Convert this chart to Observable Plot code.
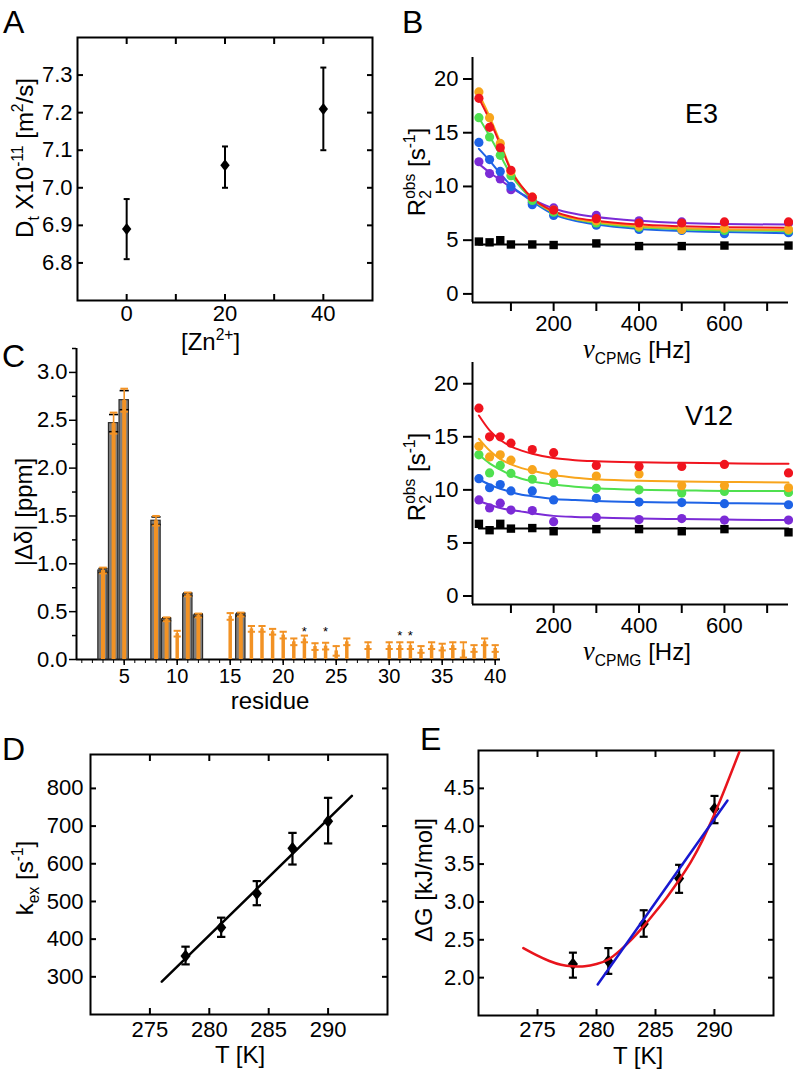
<!DOCTYPE html>
<html><head><meta charset="utf-8">
<script src="https://cdn.jsdelivr.net/npm/d3@7"></script>
<script src="https://cdn.jsdelivr.net/npm/@observablehq/plot@0.6"></script>
<style>
body{margin:0;background:#fff;}
#root{position:relative;width:793px;height:1070px;overflow:hidden;background:#fff;}
</style></head><body><div id="root"></div>
<script>
// ---------------- DATA ----------------
// Panel A
const znConc = [0, 20, 40];
const diffCoef = [6.89, 7.06, 7.21];
const diffLow = [6.81, 7.00, 7.10];
const diffHigh = [6.97, 7.11, 7.32];
const znDomain = [-10, 50];
const diffDomain = [6.7, 7.4];
const znTicks = [0, 10, 20, 30, 40];
const znLabeled = [0, 20, 40];
const diffTicks = [6.8, 6.9, 7.0, 7.1, 7.2, 7.3];

// Panel B (CPMG)
const seriesNames = ["s5", "s4", "s3", "s2", "s1"];
const seriesColors = ["#7b2bd6", "#1e63e6", "#4fe04f", "#f8a51c", "#f0141e"];
const nuCPMG = [25, 50, 75, 100, 150, 200, 300, 400, 500, 600, 750];
const nuFit = [25, 50, 75, 100, 125, 150, 200, 250, 300, 400, 500, 600, 750];
const nuDomain = [10, 750];
const r2Domain = [-0.8, 22];
const nuTicks = [100, 200, 300, 400, 500, 600, 700];
const nuLabeled = [200, 400, 600];
const r2Ticks = [0, 5, 10, 15, 20];

const e3Red    = [18.2, 15.5, 13.6, 11.5, 9.0, 7.8, 7.0, 6.6, 6.6, 6.7, 6.7];
const e3Orange = [18.8, 16.4, 14.0, 11.4, 9.0, 7.8, 6.8, 6.3, 6.0, 6.1, 6.0];
const e3Green  = [16.4, 14.6, 12.9, 11.0, 8.7, 7.6, 6.6, 6.2, 6.0, 5.9, 5.9];
const e3Blue   = [14.1, 12.5, 11.4, 10.0, 8.3, 7.3, 6.4, 6.0, 5.9, 5.6, 5.7];
const e3Purple = [12.3, 11.2, 10.7, 9.7, 8.5, 8.0, 7.3, 6.8, 6.7, 6.6, 6.6];
const e3Ref    = [4.87, 4.8, 5.0, 4.6, 4.6, 4.55, 4.7, 4.45, 4.45, 4.5, 4.5];

const e3RedFit    = [18.2, 16.2, 13.9, 11.5, 10.0, 8.9, 7.7, 7.1, 6.8, 6.45, 6.3, 6.2, 6.15];
const e3OrangeFit = [18.6, 16.5, 14.1, 11.6, 10.0, 8.9, 7.6, 7.0, 6.7, 6.3, 6.1, 6.0, 5.95];
const e3GreenFit  = [16.4, 14.7, 12.9, 11.1, 9.8, 8.8, 7.55, 6.95, 6.6, 6.2, 6.0, 5.9, 5.85];
const e3BlueFit   = [13.5, 12.4, 11.2, 10.1, 9.3, 8.6, 7.4, 6.8, 6.45, 6.05, 5.85, 5.75, 5.65];
const e3PurpleFit = [12.1, 11.3, 10.6, 9.9, 9.3, 8.8, 7.95, 7.45, 7.15, 6.8, 6.6, 6.5, 6.45];
const refFitNu = [25, 750];
const e3RefFit = [4.6, 4.6];

const v12Red    = [17.7, 15.0, 15.0, 14.4, 13.8, 13.5, 12.3, 12.2, 12.2, 12.4, 11.6];
const v12Orange = [14.1, 13.1, 13.3, 12.8, 11.9, 11.5, 11.3, 11.5, 10.4, 10.4, 10.2];
const v12Green  = [13.3, 11.6, 12.3, 11.55, 11.0, 10.7, 10.15, 10.0, 9.7, 9.85, 9.75];
const v12Blue   = [11.05, 10.2, 10.5, 9.9, 9.9, 9.05, 9.2, 8.85, 8.8, 8.7, 8.6];
const v12Purple = [9.05, 8.3, 8.75, 8.1, 8.05, 7.0, 7.4, 7.2, 7.3, 7.15, 7.15];
const v12Ref    = [6.8, 6.2, 6.8, 6.35, 6.4, 6.1, 6.3, 6.3, 6.1, 6.3, 6.0];

const v12RedFit    = [17.0, 15.6, 14.7, 14.1, 13.7, 13.4, 13.0, 12.8, 12.7, 12.6, 12.55, 12.5, 12.45];
const v12OrangeFit = [14.8, 13.7, 12.9, 12.4, 12.05, 11.8, 11.4, 11.15, 11.0, 10.85, 10.8, 10.75, 10.7];
const v12GreenFit  = [13.3, 12.5, 11.9, 11.4, 11.05, 10.8, 10.5, 10.3, 10.15, 10.0, 9.95, 9.9, 9.9];
const v12BlueFit   = [11.0, 10.5, 10.1, 9.8, 9.55, 9.4, 9.15, 9.05, 8.95, 8.85, 8.8, 8.75, 8.7];
const v12PurpleFit = [8.95, 8.6, 8.3, 8.1, 7.95, 7.8, 7.55, 7.45, 7.4, 7.3, 7.25, 7.2, 7.15];
const v12RefFit = [6.35, 6.35];

// Panel C (chemical shift perturbation)
const resDomain = [0.5, 40.5];
const shiftDomain = [0, 3.25];
const resFull = [3, 4, 5, 8, 9, 11, 12, 16];
const shiftFull = [0.93, 2.47, 2.71, 1.45, 0.42, 0.68, 0.46, 0.47];
const errFullBlack = [0.02, 0.09, 0.10, 0.04, 0.015, 0.015, 0.015, 0.015];
const errFullOrange = [0.03, 0.11, 0.12, 0.05, 0.02, 0.02, 0.02, 0.02];
const resPartial = [10, 15, 17, 18, 19, 20, 21, 22, 23, 24, 25, 26, 28, 30, 31, 32, 33, 34, 35, 36, 37, 38, 39, 40];
const shiftPartial = [0.27, 0.45, 0.32, 0.32, 0.29, 0.255, 0.185, 0.215, 0.135, 0.14, 0.09, 0.185, 0.145, 0.145, 0.145, 0.145, 0.105, 0.145, 0.13, 0.145, 0.10, 0.115, 0.185, 0.115];
const errPartial = [0.03, 0.035, 0.03, 0.03, 0.03, 0.035, 0.035, 0.035, 0.035, 0.035, 0.05, 0.035, 0.035, 0.035, 0.035, 0.035, 0.035, 0.035, 0.035, 0.035, 0.08, 0.035, 0.035, 0.035];
const resStar = [22, 24, 31, 32];
const starLevel = [0.29, 0.29, 0.245, 0.245];
const resTicks = d3.range(1, 41);
const resLabeled = [5, 10, 15, 20, 25, 30, 35, 40];
const shiftTicks = [0, 0.5, 1.0, 1.5, 2.0, 2.5, 3.0];
const shiftMinor = [0.25, 0.75, 1.25, 1.75, 2.25, 2.75, 3.25];

// Panel D
const tempK = [278, 281, 284, 287, 290];
const kex = [355, 431, 521, 641, 713];
const kexLow = [333, 406, 490, 598, 654];
const kexHigh = [380, 457, 554, 682, 775];
const kexFitT = [276, 292];
const kexFit = [287, 780];
const tDomain = [270, 295];
const kexDomain = [200, 890];
const tTicks = [275, 280, 285, 290];
const kexTicks = [300, 400, 500, 600, 700, 800];

// Panel E
const dG = [2.18, 2.22, 2.71, 3.31, 4.23];
const dGLow = [2.00, 2.05, 2.54, 3.12, 4.04];
const dGHigh = [2.33, 2.39, 2.89, 3.49, 4.40];
const dGRedT = [273.8, 275, 276, 277, 278, 279, 280, 281, 282, 283, 284, 285, 286, 287, 288, 289, 290, 291, 292.1];
const dGRed  = [2.39, 2.29, 2.22, 2.17, 2.15, 2.15, 2.18, 2.24, 2.36, 2.51, 2.68, 2.87, 3.07, 3.29, 3.53, 3.82, 4.16, 4.54, 4.98];
const dGBlueT = [280.1, 291.1];
const dGBlue = [1.91, 4.34];
const dGDomain = [1.5, 5.0];
const dGTicks = [2.0, 2.5, 3.0, 3.5, 4.0, 4.5];

// ---------------- HELPERS ----------------
const FONT = '"Liberation Sans", Arial, Helvetica, sans-serif';
const STYLE = {fontFamily: FONT, fontSize: "22px", background: "transparent", color: "black", overflow: "visible"};
const capSym = {draw(ctx, size) { const r = Math.sqrt(size / Math.PI); ctx.moveTo(-r, 0); ctx.lineTo(r, 0); }};
const diamondSym = {draw(ctx, size) { const r = Math.sqrt(size / Math.PI), w = 0.78 * r; ctx.moveTo(0, -r); ctx.lineTo(w, 0); ctx.lineTo(0, r); ctx.lineTo(-w, 0); ctx.closePath(); }};
const squareSym = {draw(ctx, size) { const r = Math.sqrt(size / Math.PI); ctx.rect(-r, -r, 2 * r, 2 * r); }};

const root = document.getElementById("root");
function place(svg, left, top, w, h) {
  const div = document.createElement("div");
  div.style.cssText = `position:absolute;left:${left}px;top:${top}px;width:${w}px;height:${h}px;`;
  div.appendChild(svg);
  root.appendChild(div);
  return svg;
}
function richText(svg, off, x, y, parts, {size = 24, rotate = 0, anchor = "start", family = FONT} = {}) {
  const t = d3.select(svg).append("text")
    .attr("transform", `translate(${x - off[0]},${y - off[1]}) rotate(${rotate})`)
    .attr("text-anchor", anchor).attr("font-size", size).attr("font-family", family)
    .attr("fill", "black").style("white-space", "pre");
  let shift = 0;
  for (const p of parts) {
    const [str, kind = "", dx = 0, fam] = p;
    let s = 0, fs = size, fstyle = "normal";
    if (kind === "sub") { s = 0.25 * size; fs = 0.65 * size; }
    if (kind === "sup") { s = -0.42 * size; fs = 0.65 * size; }
    if (kind === "it") { fstyle = "italic"; fs = 1.1 * size; }
    const ts = t.append("tspan").attr("dy", s - shift).attr("dx", dx).attr("font-size", fs).attr("font-style", fstyle).text(str);
    if (fam) ts.attr("font-family", fam);
    shift = s;
  }
}
function boxAxes({xt, xl, xf, yt, yl, yf, len = 6, xoff, yoff}) {
  const fx = d => xl.includes(d) ? xf(d) : "";
  const fy = d => yl.includes(d) ? yf(d) : "";
  return [
    Plot.axisX(xt, {anchor: "bottom", tickSize: -len, tickPadding: xoff + len, tickFormat: fx, strokeWidth: 2, label: null}),
    Plot.axisX(xt, {anchor: "top", tickSize: -len, tickFormat: () => "", strokeWidth: 2, label: null}),
    Plot.axisY(yt, {anchor: "left", tickSize: -len, tickPadding: yoff + len, tickFormat: fy, strokeWidth: 2, label: null}),
    Plot.axisY(yt, {anchor: "right", tickSize: -len, tickFormat: () => "", strokeWidth: 2, label: null}),
    Plot.frame({strokeWidth: 2, stroke: "black"})
  ];
}
function letter(svg, off, x, y, s) { richText(svg, off, x, y, [[s]], {size: 32}); }

// ---------------- PANEL A ----------------
{
  const data = znConc.map((z, i) => ({z, d: diffCoef[i], lo: diffLow[i], hi: diffHigh[i]}));
  const off = [0, 0];
  const svg = Plot.plot({
    width: 400, height: 355, marginLeft: 77, marginRight: 28, marginTop: 37, marginBottom: 55,
    style: STYLE,
    x: {domain: znDomain, label: null}, y: {domain: diffDomain, label: null},
    marks: [
      ...boxAxes({xt: znTicks, xl: znLabeled, xf: d3.format("d"), yt: diffTicks, yl: diffTicks, yf: d3.format(".1f"), xoff: 5, yoff: 5}),
      Plot.ruleX(data, {x: "z", y1: "lo", y2: "hi", stroke: "black", strokeWidth: 2}),
      Plot.dot(data, {x: "z", y: "lo", symbol: capSym, r: 3, fill: "none", stroke: "black", strokeWidth: 2}),
      Plot.dot(data, {x: "z", y: "hi", symbol: capSym, r: 3, fill: "none", stroke: "black", strokeWidth: 2}),
      Plot.dot(data, {x: "z", y: "d", symbol: diamondSym, r: 6, fill: "black", stroke: "none"})
    ]
  });
  place(svg, 0, 0, 400, 355);
  letter(svg, off, 3, 33, "A");
  richText(svg, off, 181, 350, [["[Zn"], ["2+", "sup"], ["]"]]);
  richText(svg, off, 33, 158, [["D"], ["t", "sub"], [" X10"], ["-11", "sup"], [" [m"], ["2", "sup"], ["/s]"]], {rotate: -90, anchor: "middle"});
}

// ---------------- PANEL B ----------------
function cpmgPanel({obs, fits, ref, refFit, left, top, mb, name, nameY, letterB}) {
  const pts = obs.flatMap((vals, i) => vals.map((v, j) => ({s: seriesNames[i], nu: nuCPMG[j], r: v})));
  const fit = fits.flatMap((vals, i) => vals.map((v, j) => ({s: seriesNames[i], nu: nuFit[j], r: v})));
  const refPts = nuCPMG.map((nu, j) => ({nu, r: ref[j]}));
  const refLine = refFitNu.map((nu, j) => ({nu, r: refFit[j]}));
  const off = [left, top];
  const svg = Plot.plot({
    width: 393, height: 355, marginLeft: 72, marginRight: 5, marginTop: 57, marginBottom: mb,
    style: STYLE,
    x: {domain: nuDomain, label: null}, y: {domain: r2Domain, label: null},
    color: {type: "ordinal", domain: seriesNames, range: seriesColors},
    marks: [
      Plot.axisX(nuTicks, {anchor: "bottom", tickSize: 9, tickPadding: 4, strokeWidth: 2, tickFormat: d => nuLabeled.includes(d) ? d3.format("d")(d) : "", label: null}),
      Plot.axisY(r2Ticks, {anchor: "left", tickSize: 9, tickPadding: 5, strokeWidth: 2, tickFormat: d3.format("d"), label: null}),
      Plot.ruleX([nuDomain[0]], {stroke: "black", strokeWidth: 2}),
      Plot.ruleY([r2Domain[0]], {stroke: "black", strokeWidth: 2}),
      Plot.line(refLine, {x: "nu", y: "r", stroke: "black", strokeWidth: 2}),
      Plot.dot(refPts, {x: "nu", y: "r", symbol: squareSym, r: 4.2, fill: "black", stroke: "none"}),
      Plot.line(fit, {x: "nu", y: "r", z: "s", stroke: "s", strokeWidth: 2, curve: "monotone-x"}),
      Plot.dot(pts, {x: "nu", y: "r", fill: "s", r: 4.6, stroke: "none"})
    ]
  });
  place(svg, left, top, 393, 355);
  if (letterB) letter(svg, off, 402, 33, "B");
  richText(svg, off, 685, nameY, [[name]], {size: 27});
  richText(svg, off, 583, top + 355 - mb + 56, [["ν", "it", 0, '"Liberation Serif", serif'], ["CPMG", "sub"], [" [Hz]"]]);
  richText(svg, off, 425, top + 172, [["R"], ["2", "sub"], ["obs", "sup", -0.65 * 24 * 0.556], [" [s"], ["-1", "sup"], ["]"]], {rotate: -90, anchor: "middle"});
}
cpmgPanel({obs: [e3Purple, e3Blue, e3Green, e3Orange, e3Red], fits: [e3PurpleFit, e3BlueFit, e3GreenFit, e3OrangeFit, e3RedFit],
  ref: e3Ref, refFit: e3RefFit, left: 400, top: 0, mb: 53, name: "E3", nameY: 123, letterB: true});
cpmgPanel({obs: [v12Purple, v12Blue, v12Green, v12Orange, v12Red], fits: [v12PurpleFit, v12BlueFit, v12GreenFit, v12OrangeFit, v12RedFit],
  ref: v12Ref, refFit: v12RefFit, left: 400, top: 305, mb: 56, name: "V12", nameY: 425, letterB: false});

// ---------------- PANEL C ----------------
{
  const orangeC = "#f29224";
  const full = resFull.map((r, i) => ({r, v: shiftFull[i], eb: errFullBlack[i], eo: errFullOrange[i]}));
  const part = resPartial.map((r, i) => ({r, v: shiftPartial[i], e: errPartial[i]}));
  const stars = resStar.map((r, i) => ({r, y: starLevel[i]}));
  const off = [0, 320];
  const svg = Plot.plot({
    width: 510, height: 390, marginLeft: 76, marginRight: 10, marginTop: 28, marginBottom: 51,
    style: STYLE,
    x: {domain: resDomain, label: null}, y: {domain: shiftDomain, label: null},
    marks: [
      Plot.axisX(resTicks, {anchor: "bottom", tickSize: 4, tickPadding: 5, strokeWidth: 1, tickFormat: () => "", label: null}),
      Plot.axisX(resLabeled, {anchor: "bottom", tickSize: 6, tickPadding: 3, strokeWidth: 1.5, tickFormat: d3.format("d"), label: null, fontSize: 20}),
      Plot.axisY(shiftMinor, {anchor: "left", tickSize: 4, strokeWidth: 1.5, tickFormat: () => "", label: null}),
      Plot.axisY(shiftTicks, {anchor: "left", tickSize: 7, tickPadding: 2, strokeWidth: 1.5, tickFormat: d3.format(".1f"), label: null}),
      Plot.ruleX([resDomain[0]], {stroke: "black", strokeWidth: 2}),
      Plot.ruleY([shiftDomain[0]], {stroke: "black", strokeWidth: 2}),
      // full bars
      Plot.rect(full, {x1: d => d.r - 0.44, x2: d => d.r + 0.44, y1: d => 0, y2: "v", fill: "#7f7f7f", stroke: "#2b2b2b", strokeWidth: 1.2}),
      Plot.dot(full, {x: "r", y: d => d.v + d.eb, symbol: capSym, r: 4.6, fill: "none", stroke: "black", strokeWidth: 1.6}),
      Plot.dot(full, {x: "r", y: d => d.v - d.eb, symbol: capSym, r: 4.6, fill: "none", stroke: "black", strokeWidth: 1.6}),
      Plot.ruleX(full, {x: "r", y1: d => 0, y2: "v", stroke: orangeC, strokeWidth: 4}),
      Plot.ruleX(full, {x: "r", y1: d => d.v - d.eo, y2: d => d.v + d.eo, stroke: orangeC, strokeWidth: 1.6}),
      Plot.dot(full, {x: "r", y: d => d.v + d.eo, symbol: capSym, r: 3.8, fill: "none", stroke: orangeC, strokeWidth: 2}),
      Plot.dot(full, {x: "r", y: d => d.v - d.eo, symbol: capSym, r: 3.8, fill: "none", stroke: orangeC, strokeWidth: 2}),
      // partial bars (orange only)
      Plot.ruleX(part, {x: "r", y1: d => 0, y2: "v", stroke: orangeC, strokeWidth: 3.5}),
      Plot.ruleX(part, {x: "r", y1: d => d.v - d.e, y2: d => d.v + d.e, stroke: orangeC, strokeWidth: 1.6}),
      Plot.dot(part, {x: "r", y: d => d.v + d.e, symbol: capSym, r: 3.6, fill: "none", stroke: orangeC, strokeWidth: 2}),
      Plot.dot(part, {x: "r", y: d => d.v - d.e, symbol: capSym, r: 3.6, fill: "none", stroke: orangeC, strokeWidth: 2}),
      Plot.text(stars, {x: "r", y: "y", text: () => "*", fontSize: 13, fill: "black"})
    ]
  });
  place(svg, 0, 320, 510, 390);
  letter(svg, off, 2, 367, "C");
  richText(svg, off, 270, 709, [["residue"]], {anchor: "middle"});
  richText(svg, off, 32, 512, [["|Δδ| [ppm]"]], {rotate: -90, anchor: "middle"});
}

// ---------------- PANEL D ----------------
{
  const data = tempK.map((t, i) => ({t, k: kex[i], lo: kexLow[i], hi: kexHigh[i]}));
  const fit = kexFitT.map((t, i) => ({t, k: kexFit[i]}));
  const off = [0, 720];
  const svg = Plot.plot({
    width: 400, height: 350, marginLeft: 90, marginRight: 13, marginTop: 34, marginBottom: 56,
    style: STYLE,
    x: {domain: tDomain, label: null}, y: {domain: kexDomain, label: null},
    marks: [
      ...boxAxes({xt: tTicks, xl: tTicks, xf: d3.format("d"), yt: kexTicks, yl: kexTicks, yf: d3.format("d"), xoff: 7, yoff: 7}),
      Plot.line(fit, {x: "t", y: "k", stroke: "black", strokeWidth: 2.5}),
      Plot.ruleX(data, {x: "t", y1: "lo", y2: "hi", stroke: "black", strokeWidth: 2.2}),
      Plot.dot(data, {x: "t", y: "lo", symbol: capSym, r: 4.2, fill: "none", stroke: "black", strokeWidth: 2.2}),
      Plot.dot(data, {x: "t", y: "hi", symbol: capSym, r: 4.2, fill: "none", stroke: "black", strokeWidth: 2.2}),
      Plot.dot(data, {x: "t", y: "k", symbol: diamondSym, r: 6.5, fill: "black", stroke: "none"})
    ]
  });
  place(svg, 0, 720, 400, 350);
  letter(svg, off, 2, 760, "D");
  richText(svg, off, 240, 1063, [["T [K]"]], {anchor: "middle"});
  richText(svg, off, 33, 878, [["k"], ["ex", "sub"], [" [s"], ["-1", "sup"], ["]"]], {rotate: -90, anchor: "middle"});
}

// ---------------- PANEL E ----------------
{
  const data = tempK.map((t, i) => ({t, g: dG[i], lo: dGLow[i], hi: dGHigh[i]}));
  const red = dGRedT.map((t, i) => ({t, g: dGRed[i]}));
  const blue = dGBlueT.map((t, i) => ({t, g: dGBlue[i]}));
  const off = [400, 720];
  const svg = Plot.plot({
    width: 393, height: 350, marginLeft: 78, marginRight: 20, marginTop: 30, marginBottom: 55,
    style: STYLE,
    x: {domain: tDomain, label: null}, y: {domain: dGDomain, label: null},
    marks: [
      ...boxAxes({xt: tTicks, xl: tTicks, xf: d3.format("d"), yt: dGTicks, yl: dGTicks, yf: d3.format(".1f"), xoff: 6, yoff: 4}),
      Plot.ruleX(data, {x: "t", y1: "lo", y2: "hi", stroke: "black", strokeWidth: 2.2}),
      Plot.dot(data, {x: "t", y: "lo", symbol: capSym, r: 4, fill: "none", stroke: "black", strokeWidth: 2.2}),
      Plot.dot(data, {x: "t", y: "hi", symbol: capSym, r: 4, fill: "none", stroke: "black", strokeWidth: 2.2}),
      Plot.dot(data, {x: "t", y: "g", symbol: diamondSym, r: 6.5, fill: "black", stroke: "none"}),
      Plot.line(red, {x: "t", y: "g", stroke: "#e8141c", strokeWidth: 2.5, curve: "natural"}),
      Plot.line(blue, {x: "t", y: "g", stroke: "#1818d0", strokeWidth: 2.5})
    ]
  });
  place(svg, 400, 720, 393, 350);
  letter(svg, off, 420, 750, "E");
  richText(svg, off, 638, 1064, [["T [K]"]], {anchor: "middle"});
  richText(svg, off, 432, 880, [["ΔG [kJ/mol]"]], {rotate: -90, anchor: "middle"});
}
</script></body></html>
